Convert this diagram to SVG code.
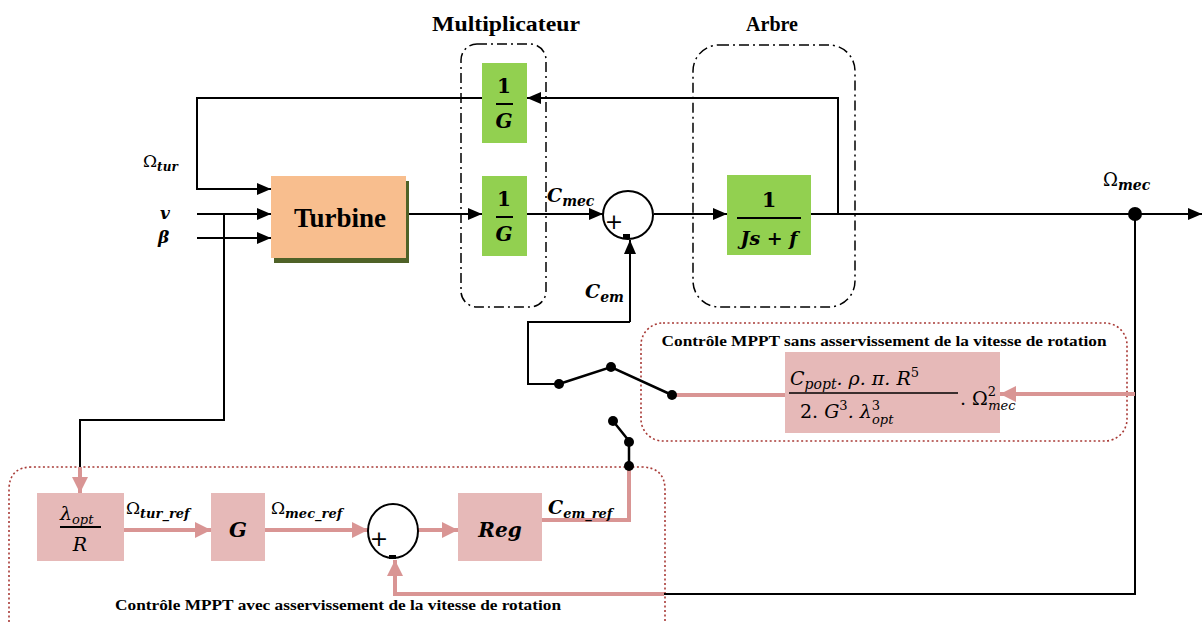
<svg xmlns="http://www.w3.org/2000/svg" width="1203" height="623" viewBox="0 0 1203 623">
<style>
.ln{fill:none;stroke:#000;stroke-width:2}
.pk{fill:none;stroke:#d99594;stroke-width:4}
.gr{fill:#92d050}
.pb{fill:#e6b9b8}
.dd{fill:none;stroke:#000;stroke-width:1.5;stroke-dasharray:10 4 2 4}
.dot{fill:none;stroke:#a83a36;stroke-width:1.6;stroke-dasharray:2 2.5}
.t{font-family:"Liberation Serif","Times New Roman","DejaVu Serif",serif;fill:#000}
.b{font-weight:bold}
.m{font-family:"DejaVu Serif","Liberation Serif",serif;font-style:italic;font-weight:bold;fill:#000}
.mi{font-family:"DejaVu Serif","Liberation Serif",serif;font-style:italic;fill:#000}
.up{font-style:normal}
.pl{font-family:"DejaVu Sans","Liberation Sans",sans-serif;font-size:22px;fill:#000;text-anchor:middle}
</style>
<defs>
<marker id="ab" viewBox="0 0 14 12" refX="14" refY="6" markerWidth="14" markerHeight="12" markerUnits="userSpaceOnUse" orient="auto"><path d="M0,0L14,6L0,12z" fill="#000"/></marker>
<marker id="ap" viewBox="0 0 16 16" refX="16" refY="8" markerWidth="16" markerHeight="16" markerUnits="userSpaceOnUse" orient="auto"><path d="M0,0L16,8L0,16z" fill="#d99594"/></marker>
</defs>

<g id="multiplicateur">
<rect class="dd" x="461" y="44" width="85" height="263" rx="16"/>
<text class="t b" x="506" y="31" font-size="20" text-anchor="middle" textLength="148" lengthAdjust="spacingAndGlyphs">Multiplicateur</text>
</g>
<g id="arbre">
<rect class="dd" x="693" y="45" width="162" height="262" rx="26"/>
<text class="t b" x="772" y="31" font-size="20" text-anchor="middle">Arbre</text>
</g>
<g id="mppt-sans">
<rect class="dot" x="641" y="323" width="486" height="118" rx="22"/>
<text class="t b" x="884" y="346" font-size="15" text-anchor="middle" textLength="445" lengthAdjust="spacingAndGlyphs">Contrôle MPPT sans asservissement de la vitesse de rotation</text>
</g>
<g id="mppt-avec">
<path class="dot" d="M9,640 L9,490 Q9,467 32,467 L641,467 Q665,467 665,490 L665,640"/>
<text class="t b" x="338" y="610" font-size="15" text-anchor="middle" textLength="446" lengthAdjust="spacingAndGlyphs">Contrôle MPPT avec asservissement de la vitesse de rotation</text>
</g>

<g id="connectors">
<path class="ln" d="M482,98 L197,98 L197,189 L271,189" marker-end="url(#ab)"/>
<path class="ln" d="M197,214 L271,214" marker-end="url(#ab)"/>
<path class="ln" d="M197,238 L271,238" marker-end="url(#ab)"/>
<path class="ln" d="M838,214 L838,98 L527,98" marker-end="url(#ab)"/>
<path class="ln" d="M406,214 L482,214" marker-end="url(#ab)"/>
<path class="ln" d="M527,214 L603,214" marker-end="url(#ab)"/>
<path class="ln" d="M654,214 L727,214" marker-end="url(#ab)"/>
<path class="ln" d="M811,214 L1202,214" marker-end="url(#ab)"/>
<circle cx="1135" cy="214" r="7" fill="#000"/>
<path class="ln" d="M1135,214 L1135,594 L664,594"/>
<path class="pk" d="M664,594 L395,594 L395,560" marker-end="url(#ap)"/>
<path class="pk" d="M1135,394 L1000,394" marker-end="url(#ap)"/>
<path class="pk" d="M672,395 L785,395"/>
<path class="ln" d="M224,214 L224,420 L80,420 L80,468"/>
<path class="pk" d="M80,467 L80,493" marker-end="url(#ap)"/>
<path class="pk" d="M124,530 L211,530" marker-end="url(#ap)"/>
<path class="pk" d="M265,530 L368,530" marker-end="url(#ap)"/>
<path class="pk" d="M418,530 L458,530" marker-end="url(#ap)"/>
<path class="pk" d="M542,520 L629,520 L629,466"/>
<path class="ln" d="M630,322 L630,240" marker-end="url(#ab)"/>
<path class="ln" d="M630,322 L528,322 L528,384 L559,384"/>
<path d="M559,384 L611,367 L672,395" fill="none" stroke="#000" stroke-width="2.5"/>
<circle cx="559" cy="384" r="5" fill="#000"/>
<circle cx="611" cy="367" r="5" fill="#000"/>
<circle cx="672" cy="395" r="5" fill="#000"/>
<path d="M613,421 L629,441 L629,466" fill="none" stroke="#000" stroke-width="2.5"/>
<circle cx="613" cy="421" r="5" fill="#000"/>
<circle cx="629" cy="442" r="5" fill="#000"/>
<circle cx="629" cy="466" r="5" fill="#000"/>
</g>

<g id="labels">
<text x="143" y="167"><tspan class="mi up" font-size="17">Ω</tspan><tspan class="m" font-size="12" dy="4">tur</tspan></text>
<text class="m" x="160" y="219" font-size="17">v</text>
<text class="m" x="158" y="243" font-size="17">β</text>
<text x="547" y="202"><tspan class="m" font-size="19">C</tspan><tspan class="m" font-size="14" dy="4">mec</tspan></text>
<text x="585" y="298"><tspan class="m" font-size="19">C</tspan><tspan class="m" font-size="14" dy="4">em</tspan></text>
<text x="1103" y="186"><tspan class="mi up" font-size="18">Ω</tspan><tspan class="m" font-size="14" dy="4">mec</tspan></text>
<text x="126" y="514"><tspan class="mi up" font-size="17">Ω</tspan><tspan class="m" font-size="13" dy="4">tur_ref</tspan></text>
<text x="271" y="514"><tspan class="mi up" font-size="17">Ω</tspan><tspan class="m" font-size="13" dy="4">mec_ref</tspan></text>
<text x="548" y="514"><tspan class="m" font-size="19">C</tspan><tspan class="m" font-size="13" dy="4">em_ref</tspan></text>
</g>

<g id="turbine">
<rect x="274" y="181" width="135" height="82" fill="#4f6228"/>
<rect x="271" y="176" width="135" height="82" fill="#f8be8e"/>
<text class="t b" x="340" y="227" font-size="27" text-anchor="middle">Turbine</text>
</g>
<g id="inv-g-top">
<rect class="gr" x="482" y="63" width="45" height="80"/>
<text class="m up" x="504" y="93" font-size="20" text-anchor="middle">1</text>
<line x1="496" y1="104" x2="513" y2="104" stroke="#000" stroke-width="2"/>
<text class="m" x="504" y="128" font-size="20" text-anchor="middle">G</text>
</g>
<g id="inv-g">
<rect class="gr" x="482" y="176" width="45" height="80"/>
<text class="m up" x="504" y="206" font-size="20" text-anchor="middle">1</text>
<line x1="496" y1="217" x2="513" y2="217" stroke="#000" stroke-width="2"/>
<text class="m" x="504" y="241" font-size="20" text-anchor="middle">G</text>
</g>
<g id="sum1">
<ellipse cx="628" cy="215" rx="25" ry="24" fill="#fff" stroke="#000" stroke-width="2"/>
<text class="pl" x="614" y="229">+</text>
<rect x="623" y="234" width="7" height="4" fill="#000"/>
</g>
<g id="arbre-tf">
<rect class="gr" x="727" y="175" width="84" height="80"/>
<text class="m up" x="769" y="207" font-size="21" text-anchor="middle">1</text>
<line x1="737" y1="218" x2="801" y2="218" stroke="#000" stroke-width="2"/>
<text class="m" x="769" y="245" font-size="19" text-anchor="middle">Js + f</text>
</g>
<g id="formula">
<rect class="pb" x="785" y="352" width="215" height="81"/>
<text x="790" y="385"><tspan class="mi" font-size="19">C</tspan><tspan class="mi" font-size="14" dy="4">popt</tspan><tspan class="mi" font-size="19" dy="-4">. ρ. π. R</tspan><tspan class="mi up" font-size="13" dy="-8">5</tspan></text>
<line x1="789" y1="393" x2="958" y2="393" stroke="#000" stroke-width="1.6"/>
<text x="800" y="418"><tspan class="mi up" font-size="19">2. </tspan><tspan class="mi" font-size="19">G</tspan><tspan class="mi up" font-size="13" dy="-8">3</tspan><tspan class="mi" font-size="19" dy="8">. λ</tspan><tspan class="mi up" font-size="13" dy="-8">3</tspan><tspan class="mi" font-size="13" dx="-8" dy="14">opt</tspan></text>
<text x="960" y="405"><tspan class="mi up" font-size="19">. Ω</tspan><tspan class="mi up" font-size="13" dy="-9">2</tspan><tspan class="mi" font-size="13" dx="-8" dy="14">mec</tspan></text>
</g>
<g id="lambda-r">
<rect class="pb" x="37" y="493" width="87" height="68"/>
<text x="60" y="520"><tspan class="mi" font-size="19">λ</tspan><tspan class="mi" font-size="13" dy="4">opt</tspan></text>
<line x1="60" y1="527" x2="101" y2="527" stroke="#000" stroke-width="2"/>
<text class="mi" x="80" y="551" font-size="19" text-anchor="middle">R</text>
</g>
<g id="gain-g">
<rect class="pb" x="211" y="493" width="54" height="68"/>
<text class="m" x="238" y="537" font-size="21" text-anchor="middle">G</text>
</g>
<g id="sum2">
<ellipse cx="393" cy="531" rx="25" ry="27" fill="#fff" stroke="#000" stroke-width="2"/>
<text class="pl" x="379" y="546">+</text>
<rect x="389" y="555" width="7" height="4" fill="#000"/>
</g>
<g id="reg">
<rect class="pb" x="458" y="493" width="84" height="68"/>
<text class="m" x="500" y="537" font-size="20" text-anchor="middle">Reg</text>
</g>
</svg>
